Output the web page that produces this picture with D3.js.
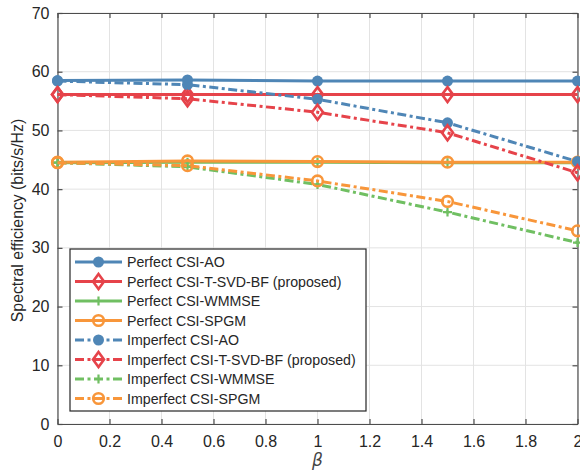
<!DOCTYPE html>
<html>
<head>
<meta charset="utf-8">
<script src="https://cdn.jsdelivr.net/npm/d3@7"></script>
<style>
  html, body { margin: 0; padding: 0; background: #fff; }
  svg { display: block; font-family: "Liberation Sans", Arial, sans-serif; }
</style>
</head>
<body>
<svg id="chart" width="580" height="476"></svg>
<script>
// Spectral efficiency versus the CSI error factor beta
const betas = [0, 0.5, 1, 1.5, 2];

const perfectAO     = [58.5, 58.6, 58.4, 58.4, 58.4];
const perfectTSVD   = [56.1, 56.1, 56.1, 56.1, 56.1];
const perfectWMMSE  = [44.5, 44.6, 44.6, 44.5, 44.5];
const perfectSPGM   = [44.6, 44.8, 44.7, 44.6, 44.6];
const imperfectAO   = [58.4, 57.8, 55.3, 51.3, 44.7];
const imperfectTSVD = [56.1, 55.4, 53.1, 49.6, 42.8];
const imperfectWMMSE= [44.5, 43.8, 40.8, 36.1, 30.9];
const imperfectSPGM = [44.5, 44.0, 41.4, 37.9, 32.9];

const seriesNames = [
  "Perfect CSI-AO",
  "Perfect CSI-T-SVD-BF (proposed)",
  "Perfect CSI-WMMSE",
  "Perfect CSI-SPGM",
  "Imperfect CSI-AO",
  "Imperfect CSI-T-SVD-BF (proposed)",
  "Imperfect CSI-WMMSE",
  "Imperfect CSI-SPGM"
];
const seriesValues = [perfectAO, perfectTSVD, perfectWMMSE, perfectSPGM,
                      imperfectAO, imperfectTSVD, imperfectWMMSE, imperfectSPGM];
const seriesColors = ["#4f86b6", "#e6434a", "#70bf62", "#f8963a",
                      "#4f86b6", "#e6434a", "#70bf62", "#f8963a"];
const seriesMarkers = ["dot", "diamond", "plus", "ring",
                       "dot", "diamond", "plus", "ring"];
const seriesDashed = [false, false, false, false, true, true, true, true];

const xTicks = [0, 0.2, 0.4, 0.6, 0.8, 1, 1.2, 1.4, 1.6, 1.8, 2];
const yTicks = [0, 10, 20, 30, 40, 50, 60, 70];

const svg = d3.select("#chart");
const m = { left: 57.5, top: 13, right: 2.5, bottom: 52 };
const W = 580 - m.left - m.right;
const H = 476 - m.top - m.bottom;

const x = d3.scaleLinear().domain([0, 2]).range([m.left, m.left + W]);
const y = d3.scaleLinear().domain([0, 70]).range([m.top + H, m.top]);

const axisColor = "#4d4d4d";
const textColor = "#262626";

// grid
const grid = svg.append("g");
grid.selectAll(".gx").data(xTicks).join("line")
  .attr("x1", d => x(d)).attr("x2", d => x(d))
  .attr("y1", m.top).attr("y2", m.top + H)
  .attr("stroke", "#e3e3e3").attr("stroke-width", 1);
grid.selectAll(".gy").data(yTicks).join("line")
  .attr("y1", d => y(d)).attr("y2", d => y(d))
  .attr("x1", m.left).attr("x2", m.left + W)
  .attr("stroke", "#e3e3e3").attr("stroke-width", 1);

// axes with inward ticks on all four sides
const tickLen = 5;
const bottomAxis = d3.axisBottom(x).tickValues(xTicks).tickSizeInner(-tickLen).tickSizeOuter(0)
  .tickPadding(12).tickFormat(d => d3.format("~g")(d));
const topAxis = d3.axisTop(x).tickValues(xTicks).tickSizeInner(-tickLen).tickSizeOuter(0).tickFormat("");
const leftAxis = d3.axisLeft(y).tickValues(yTicks).tickSizeInner(-tickLen).tickSizeOuter(0).tickPadding(8);
const rightAxis = d3.axisRight(y).tickValues(yTicks).tickSizeInner(-tickLen).tickSizeOuter(0).tickFormat("");

function styleAxis(g) {
  g.select(".domain").attr("stroke", axisColor).attr("stroke-width", 1.2);
  g.selectAll(".tick line").attr("stroke", axisColor).attr("stroke-width", 1.2);
  g.selectAll(".tick text").attr("fill", textColor).style("font-size", "16px")
    .style("font-family", "'Liberation Sans', Arial, sans-serif");
}
svg.append("g").attr("transform", `translate(0,${m.top + H})`).call(bottomAxis).call(styleAxis);
svg.append("g").attr("transform", `translate(0,${m.top})`).call(topAxis).call(styleAxis);
svg.append("g").attr("transform", `translate(${m.left},0)`).call(leftAxis).call(styleAxis);
svg.append("g").attr("transform", `translate(${m.left + W},0)`).call(rightAxis).call(styleAxis);

// axis titles
svg.append("text")
  .attr("transform", `translate(23,${m.top + H / 2 + 2}) rotate(-90)`)
  .attr("text-anchor", "middle")
  .attr("fill", textColor)
  .style("font-size", "15.8px")
  .text("Spectral efficiency (bits/s/Hz)");
svg.append("text")
  .attr("x", x(1)).attr("y", 466)
  .attr("text-anchor", "middle")
  .attr("fill", "#444")
  .style("font-size", "17px").style("font-style", "italic")
  .style("font-family", "'DejaVu Sans', sans-serif")
  .text("β");

// markers
function drawMarker(g, type, color, cx, cy) {
  if (type === "dot") {
    g.append("circle").attr("cx", cx).attr("cy", cy).attr("r", 5.5).attr("fill", color);
  } else if (type === "ring") {
    g.append("circle").attr("cx", cx).attr("cy", cy).attr("r", 5.3)
      .attr("fill", "none").attr("stroke", color).attr("stroke-width", 2.6);
  } else if (type === "diamond") {
    const w = 5.5, h = 7.5;
    g.append("path")
      .attr("d", `M${cx},${cy - h}L${cx + w},${cy}L${cx},${cy + h}L${cx - w},${cy}Z`)
      .attr("fill", "none").attr("stroke", color).attr("stroke-width", 2.6);
  } else if (type === "plus") {
    const s = 4.5;
    g.append("path")
      .attr("d", `M${cx - s},${cy}H${cx + s}M${cx},${cy - s}V${cy + s}`)
      .attr("stroke", color).attr("stroke-width", 2.2).attr("fill", "none");
  }
}

const line = d3.line().x(d => x(d[0])).y(d => y(d[1]));
const dashPattern = "9,3.5,3,3.5";

const plot = svg.append("g");
seriesValues.forEach((vals, i) => {
  const g = plot.append("g");
  const pts = betas.map((b, j) => [b, vals[j]]);
  g.append("path").datum(pts).attr("d", line)
    .attr("fill", "none").attr("stroke", seriesColors[i]).attr("stroke-width", 3)
    .attr("stroke-dasharray", seriesDashed[i] ? dashPattern : null);
  pts.forEach(p => drawMarker(g, seriesMarkers[i], seriesColors[i], x(p[0]), y(p[1])));
});

// legend
const lg = svg.append("g");
const lgX = 70, lgY = 249, lgW = 296, lgH = 162, rowH = 19.5;
lg.append("rect").attr("x", lgX).attr("y", lgY).attr("width", lgW).attr("height", lgH)
  .attr("fill", "#fff").attr("stroke", "#262626").attr("stroke-width", 1.2);
seriesNames.forEach((name, i) => {
  const cy = lgY + 13 + i * rowH;
  const row = lg.append("g");
  row.append("line").attr("x1", 75).attr("x2", 122).attr("y1", cy).attr("y2", cy)
    .attr("stroke", seriesColors[i]).attr("stroke-width", 3)
    .attr("stroke-dasharray", seriesDashed[i] ? dashPattern : null);
  drawMarker(row, seriesMarkers[i], seriesColors[i], 98.5, cy);
  row.append("text").attr("x", 127).attr("y", cy + 5)
    .attr("fill", textColor).style("font-size", "14.2px").text(name);
});
</script>
</body>
</html>
